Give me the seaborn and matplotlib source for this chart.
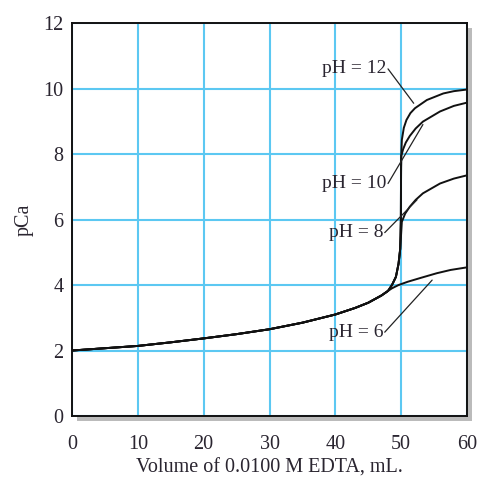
import matplotlib
matplotlib.use("Agg")
import matplotlib.pyplot as plt
import seaborn as sns
import pandas as pd
from matplotlib.patches import Rectangle

# --- data ---
pre_x = [0, 5, 10, 15, 20, 25, 30, 35, 40, 43, 45, 47, 48]
pre_y = [2.0, 2.07, 2.14, 2.25, 2.37, 2.5, 2.65, 2.85, 3.1, 3.3, 3.46, 3.68, 3.82]

steep_x = [48.6, 49.2, 49.6, 49.85, 49.95]
steep_y = [4.0, 4.25, 4.65, 5.1, 6.0]

ph12_x = [49.97, 50.0, 50.1, 50.4, 50.8, 51.4, 52.1, 53.9, 56.4, 58.0, 60.0]
ph12_y = [7.0, 7.9, 8.43, 8.8, 9.04, 9.25, 9.4, 9.65, 9.85, 9.92, 9.97]

ph10_x = [49.98, 50.02, 50.3, 50.7, 51.3, 52.2, 53.3, 55.9, 58.0, 60.0]
ph10_y = [7.6, 7.95, 8.15, 8.35, 8.55, 8.78, 8.99, 9.3, 9.47, 9.57]

ph8_x = [50.1, 50.6, 51.3, 52.2, 53.3, 55.9, 58.0, 60.0]
ph8_y = [5.93, 6.18, 6.39, 6.6, 6.8, 7.1, 7.25, 7.35]

ph6_x = [48.6, 49.6, 51.0, 53.0, 55.4, 57.5, 60.0]
ph6_y = [3.9, 4.0, 4.1, 4.22, 4.36, 4.46, 4.54]

labels = ["pH = 12", "pH = 10", "pH = 8", "pH = 6"]
label_pos = [(47.8, 10.6), (47.8, 7.1), (47.3, 5.6), (47.3, 2.56)]
leader_end = [(51.9, 9.55), (53.3, 8.9), (52.4, 6.6), (54.7, 4.15)]

x_ticks = [0, 10, 20, 30, 40, 50, 60]
y_ticks = [0, 2, 4, 6, 8, 10, 12]

rows = []
def add(name, xs, ys):
    for i, (a, b) in enumerate(zip(xs, ys)):
        rows.append({"curve": name, "order": i, "V": a, "pCa": b})

add("pH12", pre_x + steep_x + ph12_x, pre_y + steep_y + ph12_y)
add("pH10", pre_x + steep_x + ph10_x, pre_y + steep_y + ph10_y)
add("pH8", pre_x + steep_x[:-1] + ph8_x, pre_y + steep_y[:-1] + ph8_y)
add("pH6", pre_x + ph6_x, pre_y + ph6_y)
df = pd.DataFrame(rows)

sns.set_theme(style="white")
plt.rcParams["font.family"] = ["Liberation Serif", "DejaVu Serif"]

fig = plt.figure(figsize=(4.79, 4.80), dpi=100)
ax = fig.add_axes([0.1503, 0.1333, 0.8247, 0.8187])

# frame shadow
shadow = Rectangle((0.1503 + 0.010, 0.1333 - 0.010), 0.8247, 0.8187,
                   transform=fig.transFigure, facecolor="#8f8f8f",
                   edgecolor="none", alpha=0.6, zorder=-5)
fig.patches.append(shadow)
ax.set_facecolor("white")

for name in ["pH12", "pH10", "pH8", "pH6"]:
    sub = df[df["curve"] == name]
    sns.lineplot(data=sub, x="V", y="pCa", ax=ax, color="#111111",
                 linewidth=1.4, sort=False, estimator=None, zorder=3)

for lab, (tx, ty), (ex, ey) in zip(labels, label_pos, leader_end):
    ax.text(tx, ty, lab, ha="right", va="center", fontsize=14, color="#2a2530")
    ax.plot([tx + 0.2, ex], [ty, ey], color="#222222", linewidth=0.9, zorder=3)

ax.set_xlim(0, 60)
ax.set_ylim(0, 12)
ax.set_xticks(x_ticks)
ax.set_yticks(y_ticks)
ax.grid(True, color="#5cc8f2", linewidth=1.5)
ax.set_axisbelow(True)
ax.tick_params(length=0, labelsize=14.5, colors="#2a2530")
ax.tick_params(axis="x", pad=14)
ax.tick_params(axis="y", pad=6)
for s in ax.spines.values():
    s.set_color("#111111")
    s.set_linewidth(1.4)
ax.set_xlabel("Volume of 0.0100 M EDTA, mL.", fontsize=14.5, color="#2a2530", labelpad=3)
ax.set_ylabel("pCa", fontsize=14.5, color="#2a2530", labelpad=7)

fig.savefig("out.png", dpi=100)
